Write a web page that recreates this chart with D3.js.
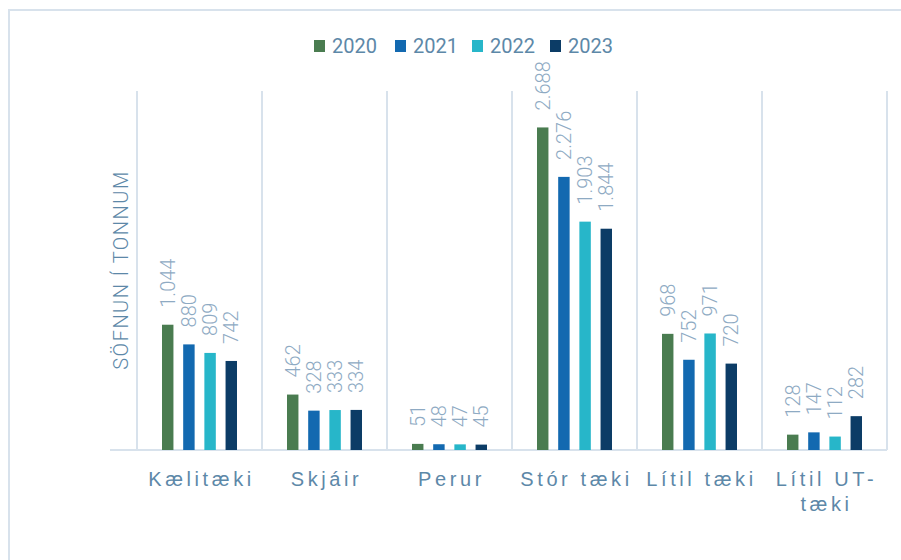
<!DOCTYPE html>
<html>
<head>
  <meta charset="utf-8">
  <title>Söfnun í tonnum</title>
  <style>
    body { margin: 0; background: #fff; }
    svg { display: block; font-family: Roboto, "Noto Sans", sans-serif; }
  </style>
</head>
<body>
  <svg width="901" height="560"></svg>
  <script src="https://cdnjs.cloudflare.com/ajax/libs/d3/7.8.5/d3.min.js"></script>
  <script>
    // gögn
    const categories = ["Kælitæki", "Skjáir", "Perur", "Stór tæki", "Lítil tæki", "Lítil UT-tæki"];
    const years = ["2020", "2021", "2022", "2023"];
    const v2020 = [1044, 462, 51, 2688, 968, 128];
    const v2021 = [880, 328, 48, 2276, 752, 147];
    const v2022 = [809, 333, 47, 1903, 971, 112];
    const v2023 = [742, 334, 45, 1844, 720, 282];
    const yDomain = [0, 3000];

    const series = [v2020, v2021, v2022, v2023];
    const colors = ["#4a7c50", "#1369b0", "#27b6c9", "#0c3c66"];
    const textColor = "#5d88a8";
    const labelColor = "#8eaac3";
    const gridColor = "#d8e2ec";

    const fmt = d3.formatLocale({ decimal: ",", thousands: ".", grouping: [3], currency: ["", ""] }).format(",d");

    const svg = d3.select("svg");
    const margin = { left: 137, right: 14, top: 90, bottom: 110 };
    const width = +svg.attr("width"), height = +svg.attr("height");

    // rammi
    svg.append("rect")
      .attr("x", 9).attr("y", 10)
      .attr("width", 920).attr("height", 600)
      .attr("fill", "none")
      .attr("stroke", gridColor)
      .attr("stroke-width", 2);

    const x0 = d3.scaleBand()
      .domain(categories)
      .range([margin.left, width - margin.right]);
    const x1 = d3.scaleBand()
      .domain(years)
      .range([25, x0.bandwidth() - 25])
      .paddingInner(0.46);
    const y = d3.scaleLinear()
      .domain(yDomain)
      .range([height - margin.bottom, margin.top]);

    // lóðréttar línur milli flokka
    const edges = categories.map(c => x0(c)).concat([x0.range()[1]]);
    svg.append("g").selectAll("line")
      .data(edges)
      .join("line")
      .attr("x1", d => d).attr("x2", d => d)
      .attr("y1", y(yDomain[1]) + 1).attr("y2", y(0))
      .attr("stroke", gridColor)
      .attr("stroke-width", 2);

    // x-ás
    const xAxis = svg.append("g")
      .attr("transform", "translate(0," + y(0) + ")")
      .call(d3.axisBottom(x0).tickSize(0).tickPadding(0));
    xAxis.select(".domain")
      .attr("stroke", gridColor)
      .attr("stroke-width", 2)
      .attr("d", "M" + (margin.left - 27) + ",0H" + (width - margin.right));
    xAxis.selectAll(".tick text").remove();
    xAxis.selectAll(".tick").append("text")
      .attr("fill", textColor)
      .attr("font-size", 20)
      .attr("font-weight", 300)
      .attr("letter-spacing", "3.6px")
      .attr("text-anchor", "middle")
      .each(function (d) {
        const parts = d.split(/(?<=-)/);
        const t = d3.select(this);
        parts.forEach((p, i) => {
          t.append("tspan")
            .attr("x", 2)
            .attr("y", 36 + i * 25)
            .text(p);
        });
      });

    // súlur
    const groups = svg.append("g").selectAll("g")
      .data(categories)
      .join("g")
      .attr("transform", c => "translate(" + x0(c) + ",0)");

    const cells = groups.selectAll("g")
      .data((c, ci) => years.map((yr, si) => ({ yr, si, v: series[si][ci] })))
      .join("g");

    cells.append("rect")
      .attr("x", d => x1(d.yr))
      .attr("y", d => y(d.v))
      .attr("width", x1.bandwidth())
      .attr("height", d => y(0) - y(d.v))
      .attr("fill", d => colors[d.si]);

    cells.append("text")
      .attr("transform", d => "translate(" + (x1(d.yr) + x1.bandwidth() / 2) + "," + (y(d.v) - 17) + ") rotate(-90)")
      .attr("dy", "0.35em")
      .attr("fill", labelColor)
      .attr("font-size", 20)
      .attr("font-weight", 300)
      .text(d => fmt(d.v));

    // y-ás titill
    svg.append("text")
      .attr("transform", "translate(121," + ((y(0) + y(yDomain[1])) / 2) + ") rotate(-90)")
      .attr("dy", "0.35em")
      .attr("text-anchor", "middle")
      .attr("fill", textColor)
      .attr("font-size", 20)
      .attr("font-weight", 300)
      .attr("letter-spacing", "1.5px")
      .text("SÖFNUN Í TONNUM");

    // skýringar
    const legendX = [314, 395, 472, 550];
    const legend = svg.append("g").selectAll("g")
      .data(years)
      .join("g")
      .attr("transform", (d, i) => "translate(" + legendX[i] + ",40)");
    legend.append("rect")
      .attr("width", 11).attr("height", 12)
      .attr("fill", (d, i) => colors[i]);
    legend.append("text")
      .attr("x", 18).attr("y", 13)
      .attr("fill", textColor)
      .attr("font-size", 20)
      .text(d => d);
  </script>
</body>
</html>
